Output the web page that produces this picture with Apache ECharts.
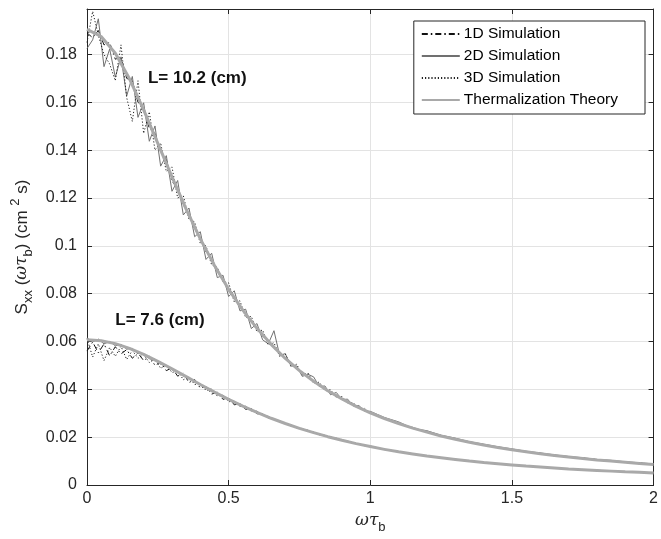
<!DOCTYPE html>
<html>
<head>
<meta charset="utf-8">
<script src="https://cdn.jsdelivr.net/npm/echarts@6/dist/echarts.min.js"></script>
<style>html,body{margin:0;padding:0;background:#fff}#c{width:661px;height:539px}</style>
</head>
<body>
<div id="c"></div>
<script>
// ---- data ----
const simX = [0,0.02,0.04,0.06,0.08,0.1,0.12,0.14,0.16,0.18,0.2,0.22,0.24,0.26,0.28,0.3,0.32,0.34,0.36,0.38,0.4,0.42,0.44,0.46,0.48,0.5,0.52,0.54,0.56,0.58,0.6,0.62,0.64,0.66,0.68,0.7,0.72,0.74,0.76,0.78,0.8,0.82,0.84,0.86,0.88,0.9,0.92,0.94,0.96,0.98,1,1.05,1.1,1.15,1.2,1.25,1.3,1.35,1.4,1.45,1.5,1.55,1.6,1.65,1.7,1.75,1.8,1.85,1.9,1.95,2];

const sim1D_L102 = [.1890,.1870,.1900,.1840,.1850,.1780,.1790,.1700,.1690,.1600,.1580,.1490,.1470,.1390,.1360,.1270,.1240,.1170,.1135,.1070,.1035,.0975,.0945,.0890,.0862,.0812,.0787,.0742,.0720,.0680,.0660,.0622,.0605,.0571,.0556,.0526,.0512,.0485,.0472,.0449,.0437,.0415,.0405,.0385,.0376,.0358,.0350,.0333,.0327,.0311,.0305,.0277,.0259,.0237,.0223,.0204,.0193,.0178,.0169,.0156,.0149,.0138,.0133,.0122,.0119,.0110,.0107,.0099,.0097,.0089,.0088];
const sim2D_L102 = [.1825,.1861,.1949,.1749,.1823,.1705,.1790,.1626,.1708,.1537,.1598,.1437,.1501,.1333,.1377,.1228,.1273,.1129,.1158,.1038,.1059,.0943,.0969,.0867,.0877,.0788,.0812,.0728,.0735,.0654,.0675,.0607,.0590,.0645,.0542,.0549,.0498,.0498,.0454,.0463,.0452,.0412,.0414,.0377,.0387,.0357,.0359,.0330,.0332,.0309,.0308,.0282,.0264,.0236,.0227,.0208,.0196,.0181,.0171,.0160,.0151,.0141,.0134,.0126,.0119,.0114,.0107,.0103,.0097,.0093,.0088];
const sim3D_L102 = [.1850,.1980,.1880,.1800,.1760,.1690,.1840,.1620,.1520,.1690,.1470,.1560,.1400,.1430,.1310,.1330,.1200,.1210,.1110,.1100,.1010,.1000,.0920,.0910,.0850,.0845,.0765,.0770,.0700,.0705,.0640,.0648,.0585,.0595,.0538,.0548,.0495,.0505,.0460,.0468,.0425,.0430,.0395,.0398,.0366,.0370,.0342,.0344,.0320,.0320,.0298,.0281,.0255,.0241,.0220,.0208,.0190,.0181,.0166,.0159,.0146,.0141,.0130,.0125,.0116,.0113,.0104,.0102,.0094,.0092,.0087];

const sim1D_L76 = [.0560,.0598,.0552,.0590,.0540,.0578,.0548,.0566,.0530,.0552,.0520,.0538,.0500,.0514,.0478,.0490,.0455,.0468,.0428,.0441,.0405,.0412,.0380,.0388,.0358,.0366,.0335,.0341,.0316,.0319,.0298,.0297,.0281,.0278,.0263,.0260,.0246,.0244,.0231,.0229,.0217,.0214,.0203,.0201,.0191,.0189,.0180,.0178,.0170,.0168,.0160,.0150,.0138,.0131,.0120,.0115,.0106,.0101,.0093,.0090,.0083,.0080,.0074,.0072,.0066,.0065,.0060,.0059,.0054,.0054,.0049];
const sim2D_L76 = [.0615,.0598,.0610,.0590,.0600,.0582,.0588,.0568,.0571,.0550,.0549,.0528,.0526,.0505,.0500,.0481,.0475,.0455,.0449,.0430,.0423,.0404,.0398,.0380,.0373,.0356,.0350,.0333,.0327,.0312,.0307,.0292,.0287,.0273,.0269,.0255,.0252,.0239,.0236,.0224,.0222,.0210,.0208,.0197,.0196,.0185,.0184,.0174,.0173,.0164,.0163,.0148,.0140,.0129,.0122,.0113,.0108,.0099,.0095,.0088,.0085,.0078,.0076,.0070,.0068,.0063,.0062,.0057,.0056,.0052,.0051];
const sim3D_L76 = [.0612,.0535,.0590,.0520,.0575,.0538,.0580,.0525,.0562,.0530,.0545,.0512,.0526,.0488,.0503,.0470,.0478,.0440,.0452,.0420,.0425,.0395,.0402,.0372,.0376,.0348,.0352,.0328,.0330,.0308,.0309,.0292,.0285,.0274,.0267,.0256,.0250,.0240,.0234,.0225,.0220,.0211,.0206,.0198,.0194,.0186,.0182,.0175,.0172,.0165,.0162,.0149,.0140,.0130,.0122,.0114,.0108,.0100,.0095,.0089,.0084,.0079,.0075,.0071,.0067,.0064,.0061,.0058,.0055,.0053,.0050];

const theoryX = [0,0.05,0.1,0.15,0.2,0.25,0.3,0.35,0.4,0.45,0.5,0.55,0.6,0.65,0.7,0.75,0.8,0.85,0.9,0.95,1,1.05,1.1,1.15,1.2,1.25,1.3,1.35,1.4,1.45,1.5,1.55,1.6,1.65,1.7,1.75,1.8,1.85,1.9,1.95,2];
const theoryL102 = [.1905,.1875,.1805,.1698,.1568,.1428,.1288,.1153,.1029,.0918,.0818,.0731,.0655,.0588,.0529,.0478,.0434,.0394,.0360,.0329,.0302,.0278,.0257,.0238,.0221,.0205,.0191,.0179,.0167,.0157,.0147,.0139,.0131,.0123,.0117,.0111,.0105,.0100,.0095,.0090,.0086];
const theoryL76 = [.0607,.0603,.0591,.0571,.0546,.0517,.0486,.0453,.0420,.0388,.0358,.0330,.0304,.0279,.0257,.0237,.0219,.0202,.0187,.0173,.0161,.0149,.0139,.0130,.0121,.0114,.0107,.0100,.0094,.0089,.0084,.0079,.0075,.0071,.0067,.0064,.0061,.0058,.0055,.0053,.0050];

const seriesNames = ['1D Simulation','2D Simulation','3D Simulation','Thermalization Theory'];
const xTicks = [0, 2, 0.5];      // min, max, step
const yTicks = [0, 0.199, 0.02]; // min, max, step
const notes = [
  {text: 'L= 10.2 (cm)', at: [0.215, 0.170]},
  {text: 'L= 7.6 (cm)',  at: [0.100, 0.069]}
];

// ---- chart ----
const FONT = 'Liberation Sans, Arial, Helvetica, sans-serif';
const AX = '#262626';
const zip = (xs, ys) => xs.map((x, i) => [x, ys[i]]);

const styles = {
  '1D Simulation': {color: '#111', width: 1, type: [6, 3, 1.5, 3]},
  '2D Simulation': {color: '#707070', width: 1, type: 'solid'},
  '3D Simulation': {color: '#222', width: 1, type: [1.2, 2]},
  'Thermalization Theory': {color: '#a9a9a9', width: 3, type: 'solid'}
};
function mk(name, xs, ys) {
  const s = styles[name];
  return {
    name: name, type: 'line', data: zip(xs, ys), showSymbol: false, symbol: 'none',
    lineStyle: {color: s.color, width: s.width, type: s.type},
    itemStyle: {color: s.color}, silent: true
  };
}
const rich = {
  m: {fontSize: 17, fontFamily: FONT, color: AX, lineHeight: 26},
  g: {fontSize: 17, fontFamily: 'DejaVu Serif, serif', fontStyle: 'italic', color: AX, lineHeight: 26},
  s: {fontSize: 13, fontFamily: FONT, color: AX, lineHeight: 13, verticalAlign: 'bottom'},
  p: {fontSize: 13, fontFamily: FONT, color: AX, lineHeight: 13, verticalAlign: 'top'}
};
const isTick = (v, step) => Math.abs(v / step - Math.round(v / step)) < 1e-6;

const chart = echarts.init(document.getElementById('c'), null, {renderer: 'canvas'});
const axCommon = {
  axisLine: {show: true, onZero: false, lineStyle: {color: AX, width: 1}},
  axisTick: {show: true, inside: true, length: 5, lineStyle: {color: AX}}
};
chart.setOption({
  animation: false,
  backgroundColor: '#fff',
  grid: {left: 87, right: 5, top: 9, bottom: 53, containLabel: false},
  legend: {
    data: seriesNames, orient: 'vertical', right: 16, top: 21,
    itemWidth: 38, itemHeight: 14, itemGap: 6, padding: [5, 27, 6, 7],
    itemStyle: {opacity: 0},
    backgroundColor: '#fff', borderColor: AX, borderWidth: 1, borderRadius: 0,
    selectedMode: false,
    textStyle: {fontFamily: FONT, fontSize: 15.5, lineHeight: 14, color: '#000', padding: [0, 0, 0, -1]}
  },
  xAxis: [
    Object.assign({
      type: 'value', min: xTicks[0], max: xTicks[1], interval: xTicks[2],
      axisLabel: {fontFamily: FONT, fontSize: 16, color: AX, margin: 6},
      splitLine: {show: true, lineStyle: {color: '#e3e3e3', width: 1}},
      name: '{g|ωτ}{s|b}', nameLocation: 'middle', nameGap: 23,
      nameTextStyle: {rich: rich}
    }, axCommon),
    Object.assign({
      type: 'value', position: 'top', min: xTicks[0], max: xTicks[1], interval: xTicks[2],
      axisLabel: {show: false}, splitLine: {show: false}
    }, axCommon)
  ],
  yAxis: [
    Object.assign({
      type: 'value', min: yTicks[0], max: yTicks[1], interval: yTicks[2],
      axisLabel: {fontFamily: FONT, fontSize: 16, color: AX, margin: 10, showMaxLabel: false,
        formatter: v => isTick(v, yTicks[2]) ? String(+v.toFixed(2)) : ''},
      splitLine: {show: true, lineStyle: {color: '#e3e3e3', width: 1}},
      name: '{m|S}{s|xx}{m| (}{g|ωτ}{s|b}{m|) (cm }{p|2}{m| s)}',
      nameLocation: 'middle', nameGap: 52, nameRotate: 90,
      nameTextStyle: {rich: rich}
    }, axCommon),
    Object.assign({
      type: 'value', position: 'right', min: yTicks[0], max: yTicks[1], interval: yTicks[2],
      axisLabel: {show: false}, splitLine: {show: false}
    }, axCommon)
  ],
  series: [
    mk('1D Simulation', simX, sim1D_L102),
    mk('2D Simulation', simX, sim2D_L102),
    mk('3D Simulation', simX, sim3D_L102),
    mk('1D Simulation', simX, sim1D_L76),
    mk('2D Simulation', simX, sim2D_L76),
    mk('3D Simulation', simX, sim3D_L76),
    mk('Thermalization Theory', theoryX, theoryL102),
    mk('Thermalization Theory', theoryX, theoryL76)
  ]
});
const g = notes.map(n => {
  const p = chart.convertToPixel({xAxisIndex: 0, yAxisIndex: 0}, n.at);
  return {type: 'text', x: p[0], y: p[1], z: 100,
    style: {text: n.text, fontFamily: FONT, fontWeight: 'bold', fontSize: 17, fill: '#111',
      textAlign: 'left', textVerticalAlign: 'middle'}};
});
chart.setOption({graphic: g});
</script>
</body>
</html>
